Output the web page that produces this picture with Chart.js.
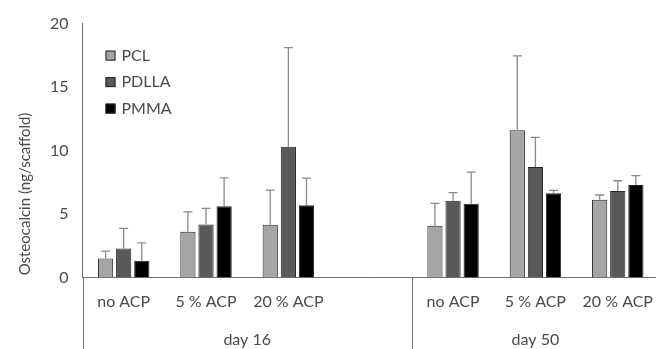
<!DOCTYPE html>
<html>
<head>
<meta charset="utf-8">
<script src="https://cdn.jsdelivr.net/npm/chart.js@4.4.1/dist/chart.umd.min.js"></script>
<style>
html,body{margin:0;padding:0;background:#fff;overflow:hidden;}
#wrap{width:668px;height:349px;}
</style>
</head>
<body>
<div id="wrap"><canvas id="chart" width="668" height="349"></canvas></div>
<script>
// categories (blank slot separates the two time points)
const categories = ['no ACP', '5 % ACP', '20 % ACP', '', 'no ACP', '5 % ACP', '20 % ACP'];
const groupLabels = ['day 16', 'day 50'];
const groupStart = [0, 4];
const groupEnd = [3, 6];

const seriesNames = ['PCL', 'PDLLA', 'PMMA'];
const pcl   = [1.50, 3.61, 4.15, null, 4.08, 11.60, 6.13];
const pdlla = [2.28, 4.18, 10.30, null, 6.05, 8.71, 6.81];
const pmma  = [1.31, 5.61, 5.69, null, 5.80, 6.63, 7.28];
// upper error (SD)
const pclErr   = [0.57, 1.56, 2.74, null, 1.76, 5.86, 0.37];
const pdllaErr = [1.59, 1.27, 7.80, null, 0.63, 2.32, 0.81];
const pmmaErr  = [1.41, 2.24, 2.14, null, 2.50, 0.23, 0.75];

const yTicks = [0, 5, 10, 15, 20];
const yTitle = 'Osteocalcin (ng/scaffold)';

const colors = ['#a5a5a5', '#595959', '#000000'];
const textColor = '#4a4a4a';
const axisColor = '#707070';
const font = 'Lato';

const extras = {
  id: 'extras',
  afterDatasetsDraw(chart) {
    const {ctx, scales: {y}} = chart;
    ctx.save();
    ctx.strokeStyle = '#8a8a8a';
    ctx.lineWidth = 1.3;
    chart.data.datasets.forEach((ds, i) => {
      chart.getDatasetMeta(i).data.forEach((bar, j) => {
        if (ds.data[j] == null) return;
        const top = y.getPixelForValue(ds.data[j] + ds.err[j]);
        ctx.beginPath();
        ctx.moveTo(bar.x, bar.y);
        ctx.lineTo(bar.x, top);
        ctx.moveTo(bar.x - 4.5, top);
        ctx.lineTo(bar.x + 4.5, top);
        ctx.stroke();
      });
    });
    ctx.restore();
  },
  afterDraw(chart) {
    const {ctx, chartArea: a, scales: {x}} = chart;
    const half = (x.getPixelForValue(1) - x.getPixelForValue(0)) / 2;
    ctx.save();
    // group separators below the axis
    ctx.strokeStyle = axisColor;
    ctx.lineWidth = 1;
    groupStart.forEach(s => {
      const px = Math.round(x.getPixelForValue(s) - half) + 0.5;
      ctx.beginPath();
      ctx.moveTo(px, a.bottom);
      ctx.lineTo(px, chart.height);
      ctx.stroke();
    });
    // group labels
    ctx.fillStyle = textColor;
    ctx.font = '16px ' + font;
    ctx.textAlign = 'center';
    ctx.textBaseline = 'middle';
    groupLabels.forEach((g, k) => {
      const l = x.getPixelForValue(groupStart[k]) - half;
      const r = x.getPixelForValue(groupEnd[k]) + half;
      ctx.fillText(g, (l + r) / 2, 340);
    });
    // legend
    ctx.textAlign = 'left';
    chart.data.datasets.forEach((ds, i) => {
      const cy = a.top + 32 + i * 26.5;
      ctx.fillStyle = ds.backgroundColor;
      ctx.fillRect(a.left + 23, cy - 5, 10, 10);
      ctx.strokeStyle = '#262626';
      ctx.strokeRect(a.left + 23.5, cy - 4.5, 9, 9);
      ctx.fillStyle = textColor;
      ctx.fillText(ds.label, a.left + 39, cy);
    });
    // y title
    ctx.font = '15px ' + font;
    ctx.textAlign = 'center';
    ctx.translate(25, 194);
    ctx.rotate(-Math.PI / 2);
    ctx.fillText(yTitle, 0, 0);
    ctx.restore();
  }
};

const errs = [pclErr, pdllaErr, pmmaErr];
new Chart(document.getElementById('chart'), {
  type: 'bar',
  data: {
    labels: categories,
    datasets: [pcl, pdlla, pmma].map((d, i) => ({
      label: seriesNames[i],
      data: d,
      err: errs[i],
      backgroundColor: colors[i],
      borderColor: '#262626',
      borderWidth: 1,
      categoryPercentage: 0.66,
      barPercentage: 0.84
    }))
  },
  options: {
    responsive: false,
    animation: false,
    layout: {padding: {top: 21.5, right: 0.5, left: 0, bottom: 0}},
    plugins: {legend: {display: false}, tooltip: {enabled: false}},
    scales: {
      x: {
        grid: {display: false, drawTicks: false},
        border: {display: true, color: axisColor},
        ticks: {color: textColor, font: {family: font, size: 16}, padding: 15, maxRotation: 0, autoSkip: false},
        afterFit: s => { s.height = 71.5; }
      },
      y: {
        min: 0, max: 20,
        afterBuildTicks: s => { s.ticks = yTicks.map(v => ({value: v})); },
        grid: {display: false, drawTicks: false},
        border: {display: true, color: axisColor},
        ticks: {color: textColor, font: {family: font, size: 16}, padding: 14},
        afterFit: s => { s.width = 82.5; }
      }
    }
  },
  plugins: [extras]
});
</script>
</body>
</html>
